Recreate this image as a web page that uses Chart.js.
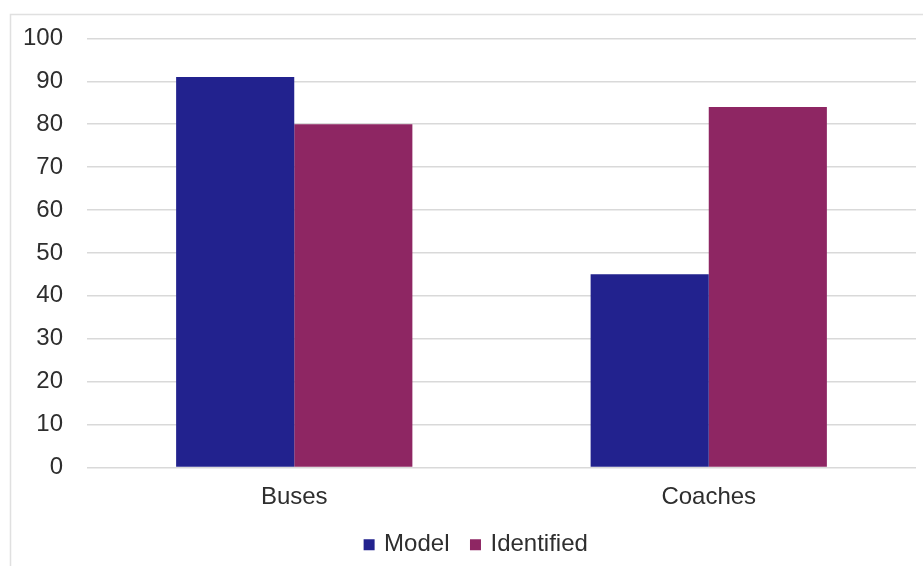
<!DOCTYPE html>
<html>
<head>
<meta charset="utf-8">
<script src="https://cdn.jsdelivr.net/npm/chart.js@4/dist/chart.umd.min.js"></script>
<style>
  html, body { margin: 0; padding: 0; background: #ffffff; }
  #wrap { width: 923px; height: 566px; position: relative; }
</style>
</head>
<body>
<div id="wrap"><canvas id="chart"></canvas></div>
<script>
// Vehicle counts by type
const categories = ['Buses', 'Coaches'];
const modelValues = [91, 45];
const identifiedValues = [80, 84];
const seriesNames = ['Model', 'Identified'];
const yTicks = { min: 0, max: 100, step: 10 };

const FONT = "'Liberation Sans', Arial, sans-serif";
const FONT_SIZE = 24;
const TEXT = '#2e2e2e';
const GRID = '#d9d9d9';

// White page with the thin frame along the top and left edges
const framePlugin = {
  id: 'frame',
  beforeDraw(chart) {
    const ctx = chart.ctx;
    ctx.save();
    ctx.fillStyle = '#ffffff';
    ctx.fillRect(0, 0, chart.width, chart.height);
    ctx.strokeStyle = '#e0e0e0';
    ctx.lineWidth = 1.5;
    ctx.beginPath();
    ctx.moveTo(10.5, chart.height);
    ctx.lineTo(10.5, 14.5);
    ctx.lineTo(chart.width, 14.5);
    ctx.stroke();
    ctx.restore();
  }
};

// Nudge the legend block a little to the right of the canvas centre
const legendOffsetPlugin = {
  id: 'legendOffset',
  afterLayout(chart) {
    const lg = chart.legend;
    if (lg) { lg.left += 19; lg.right += 19; }
  }
};

new Chart(document.getElementById('chart'), {
  type: 'bar',
  data: {
    labels: categories,
    datasets: [
      { label: seriesNames[0], data: modelValues, backgroundColor: '#22228e' },
      { label: seriesNames[1], data: identifiedValues, backgroundColor: '#8e2663' }
    ]
  },
  options: {
    responsive: true,
    maintainAspectRatio: false,
    animation: false,
    layout: { padding: { left: 0, right: 7, top: 37.7, bottom: -0.7 } },
    datasets: { bar: { categoryPercentage: 0.57, barPercentage: 1.0 } },
    scales: {
      x: {
        grid: { display: false, drawTicks: false },
        border: { display: false },
        ticks: { color: TEXT, font: { family: FONT, size: FONT_SIZE }, padding: 16 },
        afterFit(scale) { scale.height = 42.3; }
      },
      y: {
        min: yTicks.min,
        max: yTicks.max,
        grid: { color: GRID, lineWidth: 1.5, drawTicks: false },
        border: { display: false },
        ticks: { stepSize: yTicks.step, color: TEXT, font: { family: FONT, size: FONT_SIZE }, padding: 24 },
        afterFit(scale) { scale.width = 87; }
      }
    },
    plugins: {
      legend: {
        position: 'bottom',
        labels: {
          color: TEXT,
          font: { family: FONT, size: FONT_SIZE },
          usePointStyle: true,
          pointStyle: 'rect',
          boxWidth: 6,
          boxHeight: 11,
          padding: 23
        }
      },
      tooltip: { enabled: false }
    }
  },
  plugins: [framePlugin, legendOffsetPlugin]
});
</script>
</body>
</html>
